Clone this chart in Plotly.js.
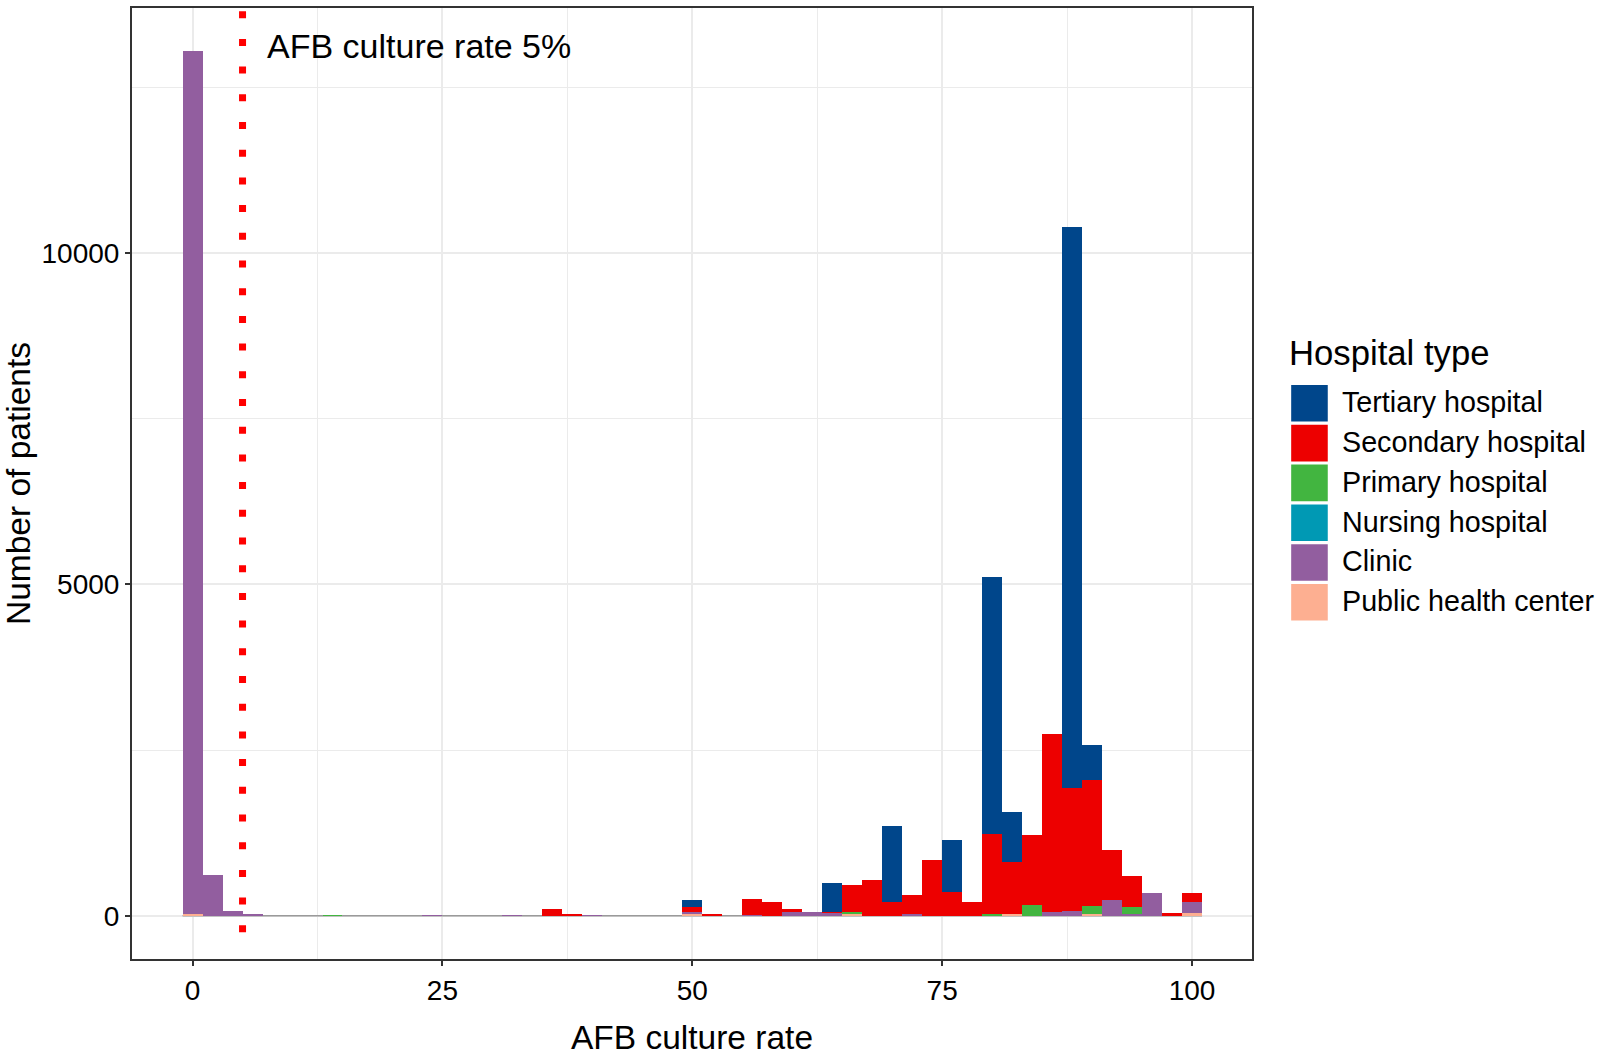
<!DOCTYPE html>
<html>
<head>
<meta charset="utf-8">
<script src="https://cdn.plot.ly/plotly-3.0.1.min.js"></script>
<style>html,body{margin:0;padding:0;background:#fff;}#chart{width:1598px;height:1056px;}</style>
</head>
<body>
<div id="chart"></div>
<script>
// ---- Data (bin width 2, bins centred on even values) ----
const seriesNames = ["Tertiary hospital", "Secondary hospital", "Primary hospital", "Nursing hospital", "Clinic", "Public health center"];
const seriesColors = ["#00468B", "#ED0000", "#42B540", "#0099B4", "#925E9F", "#FDAF91"];

const tertiaryX = [50, 64, 70, 76, 80, 82, 88, 90];
const tertiaryY = [105, 435, 1148, 781, 3883, 750, 8460, 528];

const secondaryX = [36, 38, 50, 52, 56, 58, 60, 64, 66, 68, 70, 72, 74, 76, 78, 80, 82, 84, 86, 88, 90, 92, 94, 98, 100];
const secondaryY = [100, 30, 75, 25, 245, 204, 48, 20, 421, 546, 208, 295, 838, 365, 208, 1210, 792, 1067, 2690, 1855, 1900, 755, 470, 48, 136];

const primaryX = [14, 66, 80, 84, 90, 94];
const primaryY = [15, 25, 25, 159, 125, 100];

const nursingX = [];
const nursingY = [];

const clinicX = [0, 2, 4, 6, 24, 32, 40, 50, 56, 60, 62, 64, 72, 86, 88, 92, 94, 96, 100];
const clinicY = [13020, 615, 75, 20, 15, 15, 15, 25, 15, 50, 50, 35, 25, 50, 75, 234, 30, 344, 168];

const publicX = [0, 50, 66, 82, 90, 100];
const publicY = [25, 30, 25, 20, 30, 40];

const binWidth = 2;
const cutoffRate = 5;
const cutoffLabel = "AFB culture rate 5%";
const xTicks = [0, 25, 50, 75, 100];
const yTicks = [0, 5000, 10000];

// ---- Layout geometry (pixels) ----
const W = 1598, H = 1056;
const PL = 132, PR = 1252.5, PT = 8, PB = 959;
const px2paperX = p => (p - PL) / (PR - PL);
const px2paperY = p => (PB - p) / (PB - PT);
const FONT = "Liberation Sans, Arial, Helvetica, sans-serif";

const xData = [tertiaryX, secondaryX, primaryX, nursingX, clinicX, publicX];
const yData = [tertiaryY, secondaryY, primaryY, nursingY, clinicY, publicY];

// stack bottom-up: Public health center ... Tertiary on top
const traces = [];
for (let i = seriesNames.length - 1; i >= 0; i--) {
  traces.push({
    type: "bar",
    name: seriesNames[i],
    x: xData[i],
    y: yData[i],
    width: binWidth,
    marker: {color: seriesColors[i], line: {width: 0}},
    showlegend: false,
    hoverinfo: "x+y+name"
  });
}

const shapes = [
  // baseline of the empty bins
  {type: "line", xref: "x", yref: "y", x0: -1, x1: 101, y0: 0, y1: 0,
   line: {color: "#9a9a9a", width: 1.5}, layer: "between"},
  // dotted cutoff line
  {type: "line", xref: "x", yref: "y", x0: cutoffRate, x1: cutoffRate, y0: 13650, y1: -260,
   line: {color: "#FF0000", width: 7, dash: "7px,20.7px"}, layer: "above"}
];

const annotations = [
  {xref: "x", yref: "y", x: 7.2, y: 13120, text: cutoffLabel, showarrow: false,
   xanchor: "left", yanchor: "middle", font: {family: FONT, size: 34, color: "#000"}},
  {xref: "paper", yref: "paper", x: px2paperX(1288), y: px2paperY(353), text: "Hospital type",
   showarrow: false, xanchor: "left", yanchor: "middle", font: {family: FONT, size: 34.7, color: "#000"}}
];

// manual legend with large keys
const keyLeft = 1291.7, keySize = 36.6, keyTop0 = 385, keyStep = 39.8, labelLeft = 1341;
for (let i = 0; i < seriesNames.length; i++) {
  const top = keyTop0 + i * keyStep;
  shapes.push({type: "rect", xref: "paper", yref: "paper",
    x0: px2paperX(keyLeft), x1: px2paperX(keyLeft + keySize),
    y0: px2paperY(top), y1: px2paperY(top + keySize),
    fillcolor: seriesColors[i], line: {width: 0}});
  annotations.push({xref: "paper", yref: "paper", x: px2paperX(labelLeft), y: px2paperY(top + keySize / 2 - 1),
    text: seriesNames[i], showarrow: false, xanchor: "left", yanchor: "middle",
    font: {family: FONT, size: 28.7, color: "#000"}});
}

const axisCommon = {
  showline: true, mirror: true, linecolor: "#333333", linewidth: 2,
  ticks: "outside", ticklen: 5, tickwidth: 2, tickcolor: "#333333",
  showgrid: true, gridcolor: "#EBEBEB", gridwidth: 2,
  zeroline: false, automargin: false,
  tickfont: {family: FONT, size: 28, color: "#000"}
};

const layout = {
  width: W, height: H,
  margin: {l: PL, r: W - PR, t: PT, b: H - PB, pad: 0},
  paper_bgcolor: "#fff", plot_bgcolor: "#fff",
  barmode: "stack", bargap: 0,
  showlegend: false,
  font: {family: FONT, color: "#000"},
  xaxis: Object.assign({}, axisCommon, {
    range: [-6.06, 106.0], tickmode: "array", tickvals: xTicks, ticktext: xTicks.map(String),
    minor: {tickmode: "array", tickvals: [12.5, 37.5, 62.5, 87.5], showgrid: true, gridcolor: "#EBEBEB", gridwidth: 1, ticks: ""},
    title: {text: "AFB culture rate", font: {family: FONT, size: 33.5, color: "#000"}, standoff: 21}
  }),
  yaxis: Object.assign({}, axisCommon, {
    range: [-652, 13698], tickmode: "array", tickvals: yTicks, ticktext: yTicks.map(String),
    minor: {tickmode: "array", tickvals: [2500, 7500, 12500], showgrid: true, gridcolor: "#EBEBEB", gridwidth: 1, ticks: ""},
    title: {text: "Number of patients", font: {family: FONT, size: 33.5, color: "#000"}, standoff: 12}
  }),
  shapes: shapes,
  annotations: annotations
};

Plotly.newPlot("chart", traces, layout, {displayModeBar: false, staticPlot: true});
</script>
</body>
</html>
